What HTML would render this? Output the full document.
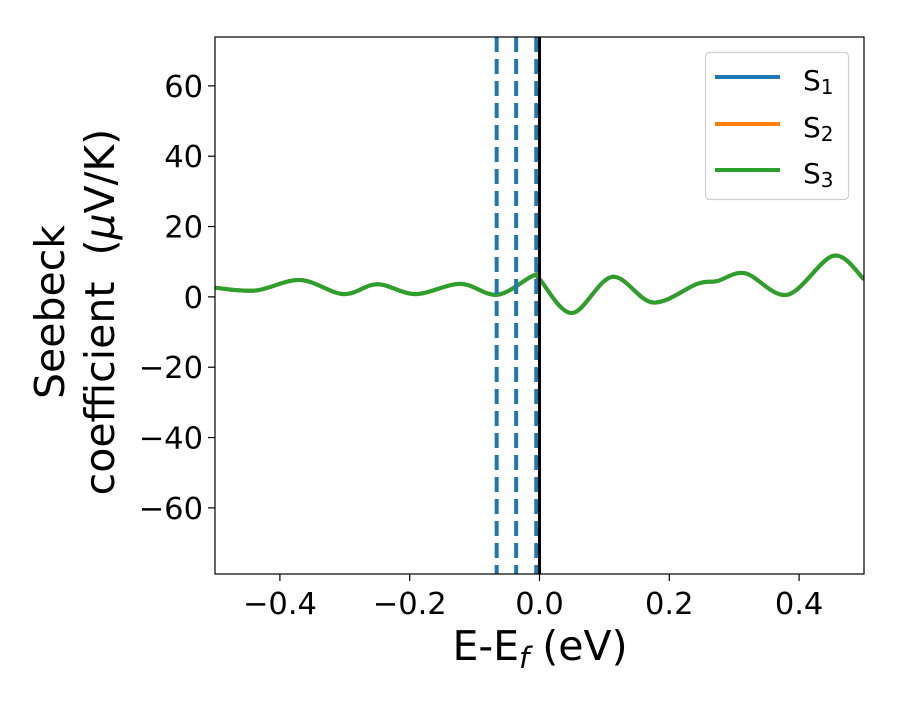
<!DOCTYPE html>
<html><head><meta charset="utf-8"><style>
body{margin:0;background:#fff}
svg{font-family:"DejaVu Sans","Liberation Sans",sans-serif}
</style></head><body>
<svg id="chart" width="900" height="700" viewBox="0 0 900 700">
<rect width="900" height="700" fill="#fff"/>
<g id="plot"></g>
</svg>
<script>
const xVals=[-0.5,-0.438,-0.369,-0.302,-0.25,-0.191,-0.122,-0.065,-0.01,0.0,0.05,0.112,0.175,0.243,0.274,0.317,0.382,0.453,0.5];
const s1Vals=[2.6,1.8,4.8,0.8,3.6,0.8,3.7,0.6,6.0,5.0,-4.6,5.7,-1.6,3.7,4.5,6.7,0.6,11.7,5.0];
const s2Vals=s1Vals.slice();
const s3Vals=s1Vals.slice();
const vLines=[-0.066,-0.036,-0.005];
const xTicks=[-0.4,-0.2,0.0,0.2,0.4];
const xTickLabels=["\u22120.4","\u22120.2","0.0","0.2","0.4"];
const yTicks=[60,40,20,0,-20,-40,-60];
const yTickLabels=["60","40","20","0","\u221220","\u221240","\u221260"];
const L=215,R=864,T=37,B=574,xMin=-0.5,xMax=0.5,yMin=-78.8,yMax=73.9;
const X=v=>L+(v-xMin)/(xMax-xMin)*(R-L);
const Y=v=>B-(v-yMin)/(yMax-yMin)*(B-T);
const NS="http://www.w3.org/2000/svg";
const g=document.getElementById('plot');
function mk(tag,attrs,parent){const e=document.createElementNS(NS,tag);for(const k in attrs)e.setAttribute(k,attrs[k]);(parent||g).appendChild(e);return e;}
function smooth(xs,ys){const p=xs.map((x,i)=>[X(x),Y(ys[i])]);let d="M"+p[0][0]+","+p[0][1];
for(let i=0;i<p.length-1;i++){const p0=p[Math.max(0,i-1)],p1=p[i],p2=p[i+1],p3=p[Math.min(p.length-1,i+2)];
const c1=[p1[0]+(p2[0]-p0[0])/6,p1[1]+(p2[1]-p0[1])/6],c2=[p2[0]-(p3[0]-p1[0])/6,p2[1]-(p3[1]-p1[1])/6];
d+=" C"+c1[0]+","+c1[1]+" "+c2[0]+","+c2[1]+" "+p2[0]+","+p2[1];}return d;}
const clip=mk('clipPath',{id:'pc'});mk('rect',{x:L,y:T,width:R-L,height:B-T},clip);
const series=[[s1Vals,'#1f77b4','series-s1'],[s2Vals,'#ff7f0e','series-s2'],[s3Vals,'#2ca02c','series-s3']];
series.forEach(s=>{const e=mk('path',{d:smooth(xVals,s[0]),fill:'none',stroke:s[1],'stroke-width':4,'clip-path':'url(#pc)'});

});
vLines.forEach((v,i)=>{const e=mk('line',{x1:X(v),x2:X(v),y1:T,y2:B,stroke:'#1f77b4','stroke-width':4,'stroke-dasharray':'15,7'});

});
const z=mk('line',{x1:X(0),x2:X(0),y1:T,y2:B,stroke:'#000','stroke-width':3});


const fr=mk('rect',{x:L,y:T,width:R-L,height:B-T,fill:'none',stroke:'#000','stroke-width':1.2});


xTicks.forEach((v,i)=>{mk('line',{x1:X(v),x2:X(v),y1:B,y2:B+7,stroke:'#000','stroke-width':1.2});
const t=mk('text',{x:X(v),y:B+40,'text-anchor':'middle','font-size':30.5});t.textContent=xTickLabels[i];

});
yTicks.forEach((v,i)=>{mk('line',{x1:L-7,x2:L,y1:Y(v),y2:Y(v),stroke:'#000','stroke-width':1.2});
const t=mk('text',{x:L-12,y:Y(v)+11,'text-anchor':'end','font-size':30.5});t.textContent=yTickLabels[i];

});
</script>
<svg width="900" height="700" style="position:absolute;left:0;top:0">
<text x="540" y="660" text-anchor="middle" font-size="41">E-E<tspan font-style="italic" font-size="29" dy="8">f</tspan><tspan dy="-8"> (eV)</tspan></text>
<g transform="translate(64,312) rotate(-90)">
<text x="0" y="0" text-anchor="middle" font-size="41">Seebeck</text>
<text x="0" y="50" text-anchor="middle" font-size="41" xml:space="preserve">coefficient  (<tspan font-style="italic">μ</tspan>V/K)</text>
</g>
<g>
<rect x="705.5" y="52.5" width="143" height="147" rx="4" fill="#fff" stroke="#d0d0d0" stroke-width="1.2"/>
<line x1="715" x2="780" y1="77" y2="77" stroke="#1f77b4" stroke-width="4"/>
<text x="803" y="90" font-size="28">S<tspan font-size="20" dy="4">1</tspan></text>
<line x1="715" x2="780" y1="124" y2="124" stroke="#ff7f0e" stroke-width="4"/>
<text x="803" y="137" font-size="28">S<tspan font-size="20" dy="4">2</tspan></text>
<line x1="715" x2="780" y1="170" y2="170" stroke="#2ca02c" stroke-width="4"/>
<text x="803" y="183" font-size="28">S<tspan font-size="20" dy="4">3</tspan></text>
</g>
</svg>
</body></html>
